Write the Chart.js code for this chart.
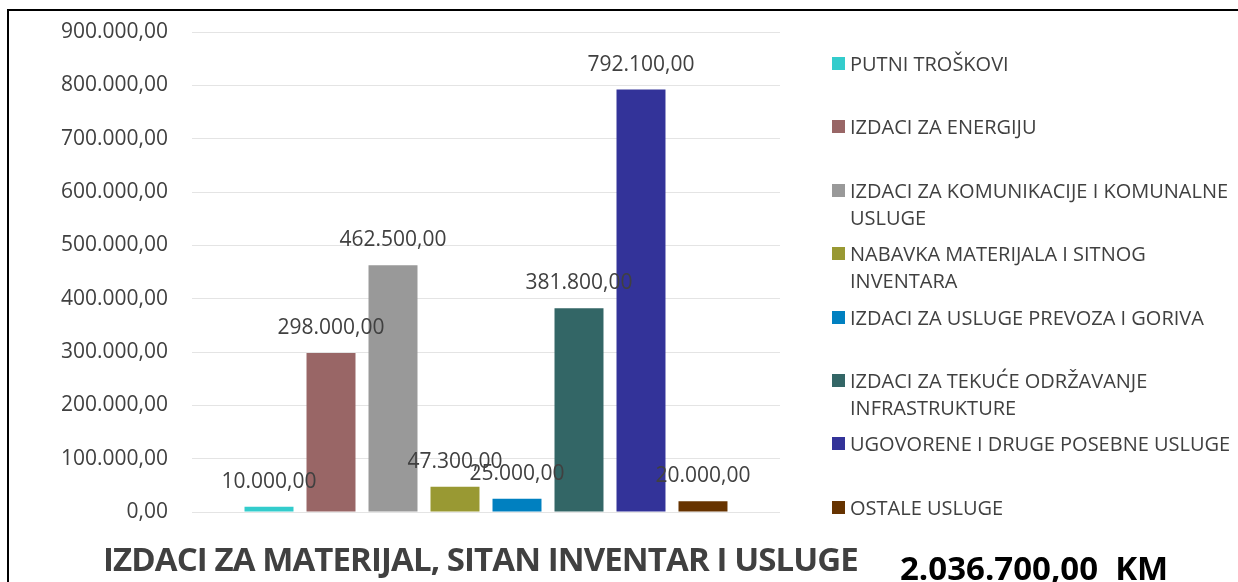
<!DOCTYPE html>
<html>
<head>
<meta charset="utf-8">
<script src="https://cdn.jsdelivr.net/npm/chart.js@4.4.0/dist/chart.umd.min.js"></script>
<style>
  html, body { margin: 0; padding: 0; background: #fff; }
  #wrap { position: relative; width: 1238px; height: 582px; overflow: hidden; font-family: "Open Sans", sans-serif; }
  #okvir { position: absolute; left: 7px; top: 9px; width: 1240px; height: 600px; border-left: 2px solid #000; border-top: 2px solid #000; }
  canvas { position: absolute; left: 0; top: 0; }
  .stavka { position: absolute; left: 832px; width: 388px; padding-left: 18px; font-size: 20px; line-height: 27px; color: #404040; }
  .kvadrat { position: absolute; left: 0; top: 7px; width: 13px; height: 13px; }
  #naslov { position: absolute; left: 103px; top: 539px; font-size: 33px; line-height: 40px; letter-spacing: -0.9px; font-weight: bold; color: #404040; white-space: nowrap; }
  #ukupno { position: absolute; left: 900px; top: 548px; font-size: 33px; line-height: 40px; font-weight: bold; color: #000; white-space: nowrap; }
</style>
</head>
<body>
<div id="wrap">
  <div id="okvir"></div>
  <canvas id="grafikon" width="1238" height="582"></canvas>
  <div id="legenda"></div>
  <div id="naslov"></div>
  <div id="ukupno"></div>
</div>
<script>
// podaci sa grafikona
const kategorije = [
  "PUTNI TROŠKOVI",
  "IZDACI ZA ENERGIJU",
  "IZDACI ZA KOMUNIKACIJE I KOMUNALNE USLUGE",
  "NABAVKA MATERIJALA I SITNOG INVENTARA",
  "IZDACI ZA USLUGE PREVOZA I GORIVA",
  "IZDACI ZA TEKUĆE ODRŽAVANJE INFRASTRUKTURE",
  "UGOVORENE I DRUGE POSEBNE USLUGE",
  "OSTALE USLUGE"
];
const iznosi = [10000, 298000, 462500, 47300, 25000, 381800, 792100, 20000];
const boje = ["#33CCCC", "#996666", "#999999", "#999933", "#0080C0", "#336666", "#333399", "#663300"];
const yOznake = [0, 100000, 200000, 300000, 400000, 500000, 600000, 700000, 800000, 900000];
const naslov = "IZDACI ZA MATERIJAL, SITAN INVENTAR I USLUGE";

// broj u formatu 1.234,00
const formatKM = (v) => {
  const [cijeli, dec] = Number(v).toFixed(2).split(".");
  return cijeli.replace(/\B(?=(\d{3})+(?!\d))/g, ".") + "," + dec;
};

// vrijednosti iznad stubaca
const oznakePlugin = {
  id: "oznake",
  afterDatasetsDraw(chart) {
    const ctx = chart.ctx;
    ctx.save();
    ctx.font = "21px 'Open Sans'";
    ctx.fillStyle = "#404040";
    ctx.textAlign = "center";
    ctx.textBaseline = "middle";
    chart.data.datasets.forEach((ds, i) => {
      chart.getDatasetMeta(i).data.forEach((bar, j) => {
        ctx.fillText(formatKM(ds.data[j]), bar.x, bar.y - 25);
      });
    });
    ctx.restore();
  }
};

new Chart(document.getElementById("grafikon"), {
  type: "bar",
  data: {
    labels: [naslov],
    datasets: kategorije.map((naziv, i) => ({
      label: naziv,
      data: [iznosi[i]],
      backgroundColor: boje[i],
      categoryPercentage: 0.8435,
      barPercentage: 0.79
    }))
  },
  options: {
    responsive: false,
    animation: false,
    layout: { padding: { left: 10, right: 458, top: 32, bottom: 70 } },
    plugins: {
      legend: { display: false },
      tooltip: { enabled: false }
    },
    scales: {
      x: { display: false },
      y: {
        min: yOznake[0],
        max: yOznake[yOznake.length - 1],
        afterBuildTicks: (s) => { s.ticks = yOznake.map(v => ({ value: v })); },
        afterFit: (s) => { s.width = 182; },
        ticks: {
          padding: 0,
          color: "#404040",
          font: { family: "Open Sans", size: 21 },
          callback: (v) => formatKM(v)
        },
        // razmak do oznaka preko nevidljivih crtica, da ne pomjera vrh grafikona
        grid: { color: "#e4e4e4", drawTicks: true, tickLength: 24, tickColor: "rgba(0,0,0,0)" },
        border: { display: false }
      }
    }
  },
  plugins: [oznakePlugin]
});

// legenda desno
const legenda = document.getElementById("legenda");
kategorije.forEach((naziv, i) => {
  const stavka = document.createElement("div");
  stavka.className = "stavka";
  stavka.style.top = (50 + i * 63.4) + "px";
  stavka.innerHTML = `<span class="kvadrat" style="background:${boje[i]}"></span>${naziv}`;
  legenda.appendChild(stavka);
});

document.getElementById("naslov").textContent = naslov;
document.getElementById("ukupno").textContent = formatKM(iznosi.reduce((a, b) => a + b, 0)) + "\u00a0 KM";
</script>
</body>
</html>
